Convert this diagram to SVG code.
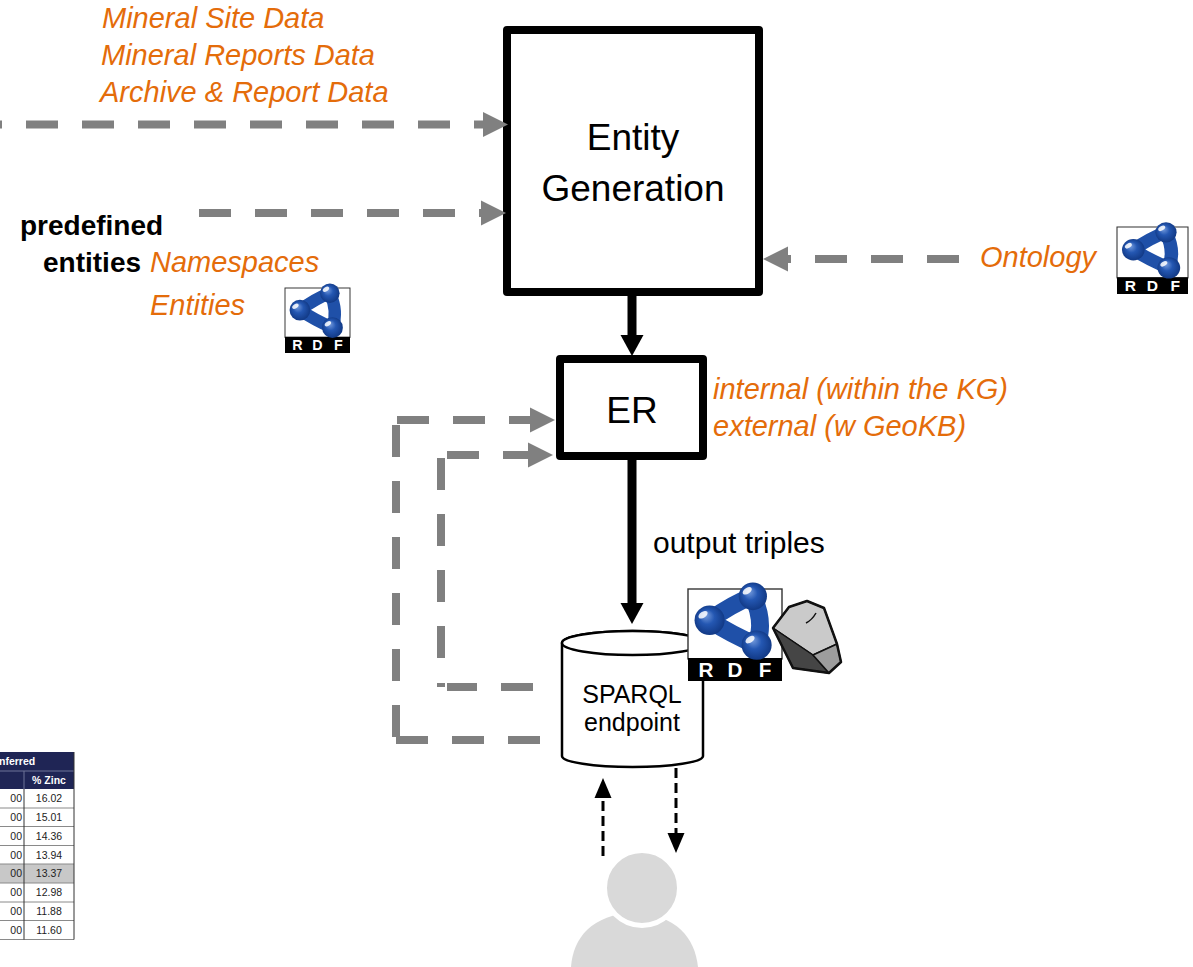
<svg xmlns="http://www.w3.org/2000/svg" width="1193" height="967" viewBox="0 0 1193 967">
<style>
  .sans{font-family:"Liberation Sans",Arial,sans-serif}
  .src{font-family:"Liberation Sans",Arial,sans-serif;font-style:italic;font-size:29px;fill:#e46c0a}
  .box{fill:#fff;stroke:#000;stroke-width:8;stroke-linejoin:round}
  .flow{fill:none;stroke:#808080;stroke-width:8;stroke-dasharray:32 24}
  .main{fill:none;stroke:#000;stroke-width:9}
  .query{fill:none;stroke:#000;stroke-width:3;stroke-dasharray:10 5}
  .cell{font-family:"Liberation Sans",Arial,sans-serif;font-size:10.5px;fill:#222}
  .hdr{font-family:"Liberation Sans",Arial,sans-serif;font-size:10.5px;font-weight:bold;fill:#fff}
  .grid{stroke:#8a8a8a;stroke-width:1}
  .rdf-letter{font-family:"Liberation Sans",Arial,sans-serif;font-weight:bold;font-size:22px;fill:#fff;text-anchor:middle}
</style>
<defs>
  <marker id="head-gray" markerUnits="userSpaceOnUse" markerWidth="25" markerHeight="25" viewBox="0 0 25 25" refX="0" refY="12.5" orient="auto" overflow="visible">
    <path d="M0,0 L25,12.5 L0,25 Z" fill="#808080"/>
  </marker>
  <marker id="head-black" markerUnits="userSpaceOnUse" markerWidth="21" markerHeight="23" viewBox="0 0 21 23" refX="0" refY="11.5" orient="auto" overflow="visible">
    <path d="M0,0 L21,11.5 L0,23 Z" fill="#000"/>
  </marker>
  <marker id="head-thin" markerUnits="userSpaceOnUse" markerWidth="20" markerHeight="17" viewBox="0 0 20 17" refX="0" refY="8.5" orient="auto" overflow="visible">
    <path d="M0,0 L20,8.5 L0,17 Z" fill="#000"/>
  </marker>
  <radialGradient id="ball" cx="0.5" cy="0.5" r="0.55" fx="0.35" fy="0.3">
    <stop offset="0" stop-color="#7ea3e2"/>
    <stop offset="0.45" stop-color="#2457b2"/>
    <stop offset="1" stop-color="#0f357f"/>
  </radialGradient>
  <!-- RDF logo drawn in a 100 x 100 unit box -->
  <g id="rdf-logo">
    <rect x="0" y="0" width="100" height="76" fill="#fff" stroke="#333" stroke-width="1.5"/>
    <rect x="0" y="75" width="100" height="25" fill="#000"/>
    <path d="M23,34 Q47,16 69,8 Q82,36 73,61 Q47,50 23,34 Z" fill="none" stroke="#1f50a8" stroke-width="19" stroke-linejoin="round"/>
    <circle cx="69" cy="8" r="15" fill="url(#ball)"/>
    <circle cx="23" cy="34" r="16" fill="url(#ball)"/>
    <circle cx="73" cy="61" r="16" fill="url(#ball)"/>
    <ellipse cx="63" cy="2" rx="5.5" ry="3.2" fill="#fff" opacity="0.85" transform="rotate(-35 63 2)"/>
    <ellipse cx="16" cy="28" rx="5.5" ry="3.2" fill="#fff" opacity="0.85" transform="rotate(-35 16 28)"/>
    <ellipse cx="66" cy="55" rx="5.5" ry="3.2" fill="#fff" opacity="0.85" transform="rotate(-35 66 55)"/>
    <text class="rdf-letter" x="19" y="96">R</text>
    <text class="rdf-letter" x="50" y="96">D</text>
    <text class="rdf-letter" x="82" y="96">F</text>
  </g>
</defs>

<rect width="1193" height="967" fill="#fff"/>

<!-- input labels -->
<g id="sources">
  <text class="src" x="102" y="28">Mineral Site Data</text>
  <text class="src" x="101" y="65">Mineral Reports Data</text>
  <text class="src" x="100" y="102">Archive &amp; Report Data</text>
</g>

<g id="predefined">
  <text class="sans" x="20" y="235" font-size="28" font-weight="bold" fill="#000">predefined</text>
  <text class="sans" x="43" y="272" font-size="28" font-weight="bold" fill="#000">entities</text>
  <text class="src" x="150" y="272">Namespaces</text>
  <text class="src" x="150" y="315">Entities</text>
  <use href="#rdf-logo" transform="translate(285,288) scale(0.65,0.65)"/>
</g>

<g id="ontology">
  <text class="src" x="980" y="267">Ontology</text>
  <use href="#rdf-logo" transform="translate(1117,227) scale(0.71,0.67)"/>
</g>

<!-- processing steps -->
<g id="entity-generation">
  <rect class="box" x="507" y="30" width="252" height="262"/>
  <text class="sans" x="633" y="150" font-size="37" text-anchor="middle" fill="#000">Entity</text>
  <text class="sans" x="633" y="201" font-size="37" text-anchor="middle" fill="#000">Generation</text>
</g>

<g id="er">
  <rect class="box" x="560" y="359" width="143" height="97"/>
  <text class="sans" x="632" y="423" font-size="37" text-anchor="middle" fill="#000">ER</text>
  <text class="src" x="713" y="399">internal (within the KG)</text>
  <text class="src" x="713" y="436">external (w GeoKB)</text>
</g>

<g id="sparql-endpoint">
  <path d="M562,643 L562,756 A70.5,11 0 0 0 703,756 L703,643 A70.5,12 0 0 0 562,643 Z" fill="#fff" stroke="#000" stroke-width="2.5"/>
  <ellipse cx="632.5" cy="643" rx="70.5" ry="12" fill="#fff" stroke="#000" stroke-width="2.5"/>
  <text class="sans" x="632" y="703" font-size="25" text-anchor="middle" fill="#000">SPARQL</text>
  <text class="sans" x="632" y="731" font-size="25" text-anchor="middle" fill="#000">endpoint</text>
  <use href="#rdf-logo" transform="translate(688,589) scale(0.94,0.92)"/>
  <!-- rock -->
  <g stroke="#111" stroke-width="1.5" stroke-linejoin="round">
    <path d="M773,628 L789,607 L807,601 L824,608 L837,644 L813,655 Z" fill="#cacaca"/>
    <path d="M773,628 L813,655 L829,673 L793,668 Z" fill="#454545"/>
    <path d="M813,655 L837,644 L841,662 L829,673 Z" fill="#9d9d9d"/>
    <path d="M773,628 L789,607 L807,601 L824,608 L837,644 L841,662 L829,673 L793,668 Z" fill="none" stroke-width="2.5"/>
    <path d="M806,623 Q812,620 816,613" fill="none"/>
  </g>
</g>

<g id="user">
  <path d="M571,967 C573,938 592,914 634,913 C676,914 695,938 698,967 Z" fill="#d9d9d9"/>
  <circle cx="642" cy="888" r="37.5" fill="#d9d9d9" stroke="#fff" stroke-width="5"/>
</g>

<g id="table">
  <rect x="-1" y="752" width="75" height="37" fill="#1f2555"/>
  <line x1="-1" y1="771" x2="74" y2="771" stroke="#6f7499" stroke-width="1"/>
  <line x1="24" y1="771" x2="24" y2="789" stroke="#6f7499" stroke-width="1"/>
  <text class="hdr" x="-1" y="765">nferred</text>
  <text class="hdr" x="49" y="783.5" text-anchor="middle">% Zinc</text>
  <rect x="0" y="864" width="74" height="19" fill="#c8c8c8"/>
  <g class="grid">
    <line x1="0" y1="808" x2="74" y2="808"/>
    <line x1="0" y1="826.5" x2="74" y2="826.5"/>
    <line x1="0" y1="845.5" x2="74" y2="845.5"/>
    <line x1="0" y1="864" x2="74" y2="864"/>
    <line x1="0" y1="883" x2="74" y2="883"/>
    <line x1="0" y1="902" x2="74" y2="902"/>
    <line x1="0" y1="920.5" x2="74" y2="920.5"/>
    <line x1="0" y1="939.5" x2="74" y2="939.5"/>
  </g>
  <line x1="24" y1="789" x2="24" y2="939.5" stroke="#333" stroke-width="1"/>
  <line x1="74" y1="752" x2="74" y2="939.5" stroke="#333" stroke-width="1"/>
  <g class="cell">
    <text x="22" y="802" text-anchor="end">00</text><text x="49" y="802" text-anchor="middle">16.02</text>
    <text x="22" y="821" text-anchor="end">00</text><text x="49" y="821" text-anchor="middle">15.01</text>
    <text x="22" y="839.5" text-anchor="end">00</text><text x="49" y="839.5" text-anchor="middle">14.36</text>
    <text x="22" y="858.5" text-anchor="end">00</text><text x="49" y="858.5" text-anchor="middle">13.94</text>
    <text x="22" y="877" text-anchor="end">00</text><text x="49" y="877" text-anchor="middle">13.37</text>
    <text x="22" y="896" text-anchor="end">00</text><text x="49" y="896" text-anchor="middle">12.98</text>
    <text x="22" y="915" text-anchor="end">00</text><text x="49" y="915" text-anchor="middle">11.88</text>
    <text x="22" y="933.5" text-anchor="end">00</text><text x="49" y="933.5" text-anchor="middle">11.60</text>
  </g>
</g>

<text class="sans" x="653" y="553" font-size="30" fill="#000">output triples</text>

<g id="connectors">
  <!-- data inputs into entity generation -->
  <path class="flow" d="M-30,124.5 H483" marker-end="url(#head-gray)"/>
  <path class="flow" d="M199,213 H481" marker-end="url(#head-gray)"/>
  <path class="flow" d="M959,259 H788" marker-end="url(#head-gray)"/>
  <!-- main pipeline -->
  <path class="main" d="M632,296 V335" marker-end="url(#head-black)"/>
  <path class="main" d="M632,460 V603" marker-end="url(#head-black)"/>
  <!-- feedback from the endpoint into ER (outer loop) -->
  <path class="flow" d="M540,740 H396"/>
  <path class="flow" d="M396,425 V737"/>
  <path class="flow" d="M397,420 H530" marker-end="url(#head-gray)"/>
  <!-- feedback from the endpoint into ER (inner loop) -->
  <path class="flow" d="M533,687 H447"/>
  <path d="M437,685 H445" stroke="#808080" stroke-width="4"/>
  <path class="flow" d="M441,458 V658"/>
  <path class="flow" d="M447,455 H528" marker-end="url(#head-gray)"/>
  <!-- user queries -->
  <path class="query" d="M603,856 V798" marker-end="url(#head-thin)"/>
  <path class="query" d="M676,768 V833" marker-end="url(#head-thin)"/>
</g>
</svg>
